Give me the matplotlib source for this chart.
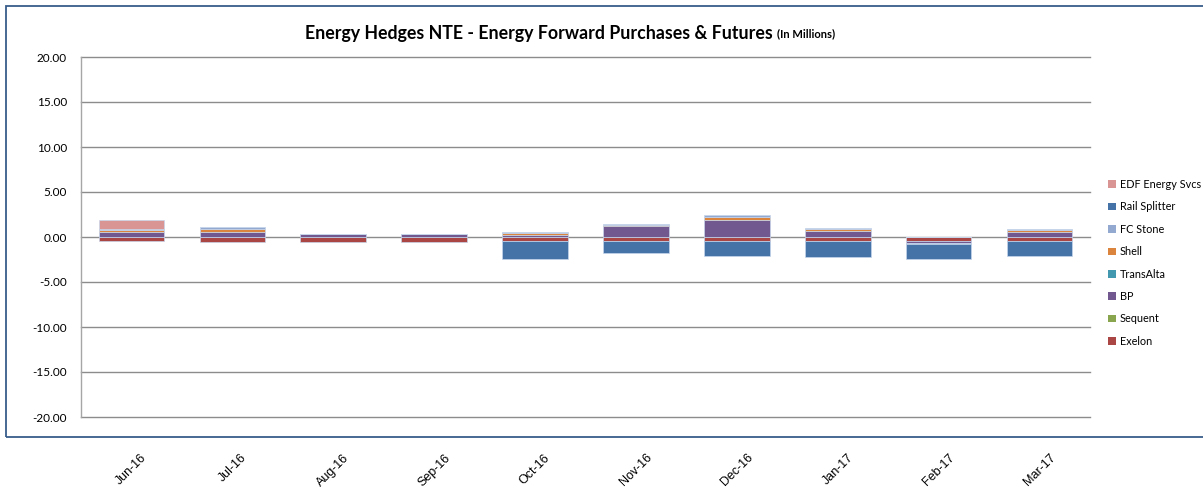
import numpy as np
import matplotlib
matplotlib.use("Agg")
import matplotlib.pyplot as plt
from matplotlib.patches import Rectangle, Patch

months = ["Jun-16", "Jul-16", "Aug-16", "Sep-16", "Oct-16", "Nov-16",
          "Dec-16", "Jan-17", "Feb-17", "Mar-17"]

# stacking order (bottom -> top)
exelon        = [-0.40, -0.60, -0.60, -0.55, -0.42, -0.42, -0.45, -0.45, -0.48, -0.48]
sequent       = [0, 0, 0, 0, 0, 0, 0, 0, 0, 0]
bp            = [0.52, 0.52, 0.30, 0.30, 0.26, 1.19, 1.85, 0.70, -0.18, 0.55]
transalta     = [0, 0, 0, 0, 0, 0.06, 0.06, 0, 0, 0]
shell         = [0.30, 0.40, 0, 0.05, 0.22, 0.07, 0.33, 0.15, 0, 0.22]
fc_stone      = [0.07, 0.18, 0.07, 0.03, 0.07, 0.10, 0.22, 0.18, -0.12, 0.10]
rail_splitter = [0, 0, 0, 0, -2.00, -1.40, -1.70, -1.80, -1.70, -1.60]
edf           = [1.04, 0, 0, 0, 0, 0, 0, 0, 0, 0]

series_names = ["Exelon", "Sequent", "BP", "TransAlta", "Shell", "FC Stone",
                "Rail Splitter", "EDF Energy Svcs"]
series_vals = [exelon, sequent, bp, transalta, shell, fc_stone, rail_splitter, edf]
colors = ["#AA4643", "#89A54E", "#71588F", "#4198AF", "#DB843D", "#93A9CF",
          "#4572A7", "#D99594"]

fig = plt.figure(figsize=(12.03, 4.93), dpi=100)
ax = fig.add_axes([81 / 1203, 1 - 417 / 493, (1090 - 81) / 1203, (417 - 57) / 493])

x = np.arange(len(months))
pos = np.zeros(len(months))
neg = np.zeros(len(months))
for name, vals, c in zip(series_names, series_vals, colors):
    v = np.array(vals, dtype=float)
    bottoms = np.where(v >= 0, pos, neg)
    ax.bar(x, v, 0.65, bottom=bottoms, color=c, edgecolor=(0.78, 0.84, 0.92, 0.7),
           linewidth=0.7, zorder=3)
    pos += np.where(v >= 0, v, 0)
    neg += np.where(v < 0, v, 0)

ax.set_xlim(-0.5, len(months) - 0.5)
ax.set_ylim(-20, 20)
ax.set_yticks(np.arange(-20, 21, 5))
ax.set_yticklabels([f"{t:.2f}" for t in np.arange(-20, 21, 5)],
                   fontsize=8.5, family="Lato")
ax.yaxis.grid(True, color="#8C8C8C", linewidth=1.0, zorder=1)
for gl in ax.get_ygridlines():
    gl.set_clip_on(False)
ax.set_axisbelow(True)
ax.tick_params(axis="y", length=0, pad=10)
ax.set_xticks(x)
ax.set_xticklabels(months, rotation=45, ha="center", va="top", fontsize=9,
                   family="Liberation Sans")
ax.tick_params(axis="x", length=0, pad=25)
for s in ["top", "right", "bottom"]:
    ax.spines[s].set_visible(False)
ax.spines["left"].set_color("#A6A6A6")
ax.spines["left"].set_linewidth(1.0)

# title
fig.text(305 / 1203, 1 - 33 / 493, "Energy Hedges NTE - Energy Forward Purchases & Futures",
         ha="left", va="center", fontsize=12.8, fontweight="bold", family="Lato")
fig.text(777 / 1203, 1 - 34 / 493, "(In Millions)", ha="left", va="center",
         fontsize=8, fontweight="bold", family="Lato")

# legend (reverse order)
handles = [Patch(facecolor=c, edgecolor="none") for c in colors][::-1]
labels = series_names[::-1]
leg = fig.legend(handles, labels, loc="upper left",
                 bbox_to_anchor=(1108 / 1203, 1 - 179 / 493),
                 frameon=False, handlelength=0.7, handleheight=0.7,
                 handletextpad=0.4, labelspacing=1.05, borderpad=0, borderaxespad=0,
                 prop={"family": "Lato", "size": 7.8})

# chart border
fig.patches.append(Rectangle((6 / 1203, 1 - 437 / 493), 1.2, (437 - 6) / 493,
                             transform=fig.transFigure, fill=False,
                             edgecolor="#385D8A", linewidth=1.3, clip_on=False))

fig.savefig("out.png", dpi=100)
